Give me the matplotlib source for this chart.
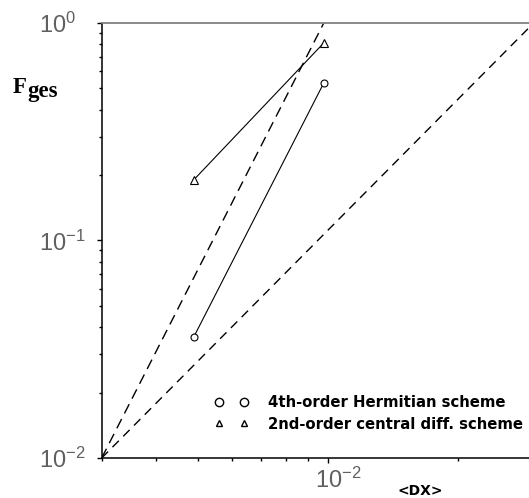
import matplotlib
matplotlib.use('Agg')
import matplotlib.pyplot as plt
import matplotlib.transforms as mtransforms
from matplotlib.lines import Line2D
from matplotlib.ticker import LogLocator, LogFormatterSciNotation, NullFormatter

# ---- data ----
dx = [0.0049, 0.0098]                 # <DX>
f_hermitian = [0.036, 0.53]           # 4th-order Hermitian scheme
f_central = [0.19, 0.81]              # 2nd-order central diff. scheme
ref_steep_x = [0.003, 0.0098]         # steep dashed reference line
ref_steep_y = [0.01, 1.0]
ref_slope2_x = [0.003, 0.03]          # slope-2 dashed reference line
ref_slope2_y = [0.01, 1.0]
series_labels = ['4th-order Hermitian scheme', '2nd-order central diff. scheme']
x_limits = [0.003, 0.03]
y_limits = [0.01, 1.0]

W, H = 529, 498
fig = plt.figure(figsize=(W / 100, H / 100), dpi=100)
ax = fig.add_axes([101.7 / W, 40 / H, 432 / W, 435 / H])
ax.set_xscale('log')
ax.set_yscale('log')
ax.set_xlim(*x_limits)
ax.set_ylim(*y_limits)

# reference lines
ax.plot(ref_steep_x, ref_steep_y, color='black', lw=1.0, dashes=(7.5, 4.5), zorder=2)
ax.plot(ref_slope2_x, ref_slope2_y, color='black', lw=1.0, dashes=(6.5, 4.5), zorder=2)

# data series
ax.plot(dx, f_hermitian, color='black', lw=0.8, marker='o', ms=5, mfc='white',
        mec='black', mew=0.8, zorder=3)
ax.plot(dx, f_central, color='black', lw=0.8, marker='^', ms=5.5, mfc='white',
        mec='black', mew=0.8, zorder=3)

# legend (markers only, two points each)
handles = [
    Line2D([], [], ls='none', marker='o', ms=6, mfc='none', mec='black', mew=1.0),
    Line2D([], [], ls='none', marker='^', ms=5, mfc='none', mec='black', mew=1.0),
]
leg = ax.legend(handles, series_labels, loc='upper left',
                bbox_to_anchor=((214.7 - 101.7) / 432, (458 - 395.0) / 435),
                frameon=False, numpoints=2, handlelength=2.3, handletextpad=1.3,
                labelspacing=0.45, borderpad=0, borderaxespad=0,
                prop={'family': 'DejaVu Sans', 'weight': 'bold', 'size': 10.7})

# spines
ax.spines['right'].set_visible(False)
ax.spines['top'].set_color('#808080')
ax.spines['top'].set_linewidth(1.3)
for s in ('left', 'bottom'):
    ax.spines[s].set_color('black')
    ax.spines[s].set_linewidth(1.1)

# ticks
for axis in (ax.xaxis, ax.yaxis):
    axis.set_major_locator(LogLocator(base=10, numticks=10))
    axis.set_minor_locator(LogLocator(base=10, subs=range(2, 10), numticks=20))
    axis.set_major_formatter(LogFormatterSciNotation())
    axis.set_minor_formatter(NullFormatter())
ax.tick_params(which='major', direction='out', length=3.6, width=1.0, color='black')
ax.tick_params(which='minor', direction='out', length=2.2, width=1.0, color='black')
ax.tick_params(axis='y', which='major', pad=41.5, labelsize=17, labelcolor='#606060')
ax.tick_params(axis='x', which='major', pad=3.5, labelsize=17, labelcolor='#606060')
ax.tick_params(top=False, right=False)
for lbl in ax.get_yticklabels():
    lbl.set_horizontalalignment('left')
    lbl.set_fontfamily('Liberation Sans')
shift = mtransforms.ScaledTranslation(11 / 100, 0, fig.dpi_scale_trans)
for lbl in ax.get_xticklabels():
    lbl.set_fontfamily('Liberation Sans')
    lbl.set_transform(lbl.get_transform() + shift)

# axis labels
ax.set_xlabel('<DX>', fontfamily='DejaVu Sans', fontweight='bold', fontsize=10,
              va='center')
ax.xaxis.set_label_coords((420 - 101.7) / 432, (458 - 491) / 435)

fig.text(13 / W, 1 - 93 / H, 'F', fontfamily='Liberation Serif', fontweight='bold',
         fontsize=16.5, va='baseline', ha='left')
fig.text(27 / W, 1 - 97 / H, 'ges', fontfamily='Liberation Serif', fontweight='bold',
         fontsize=16.5, va='baseline', ha='left')

fig.savefig('out.png', dpi=100)
